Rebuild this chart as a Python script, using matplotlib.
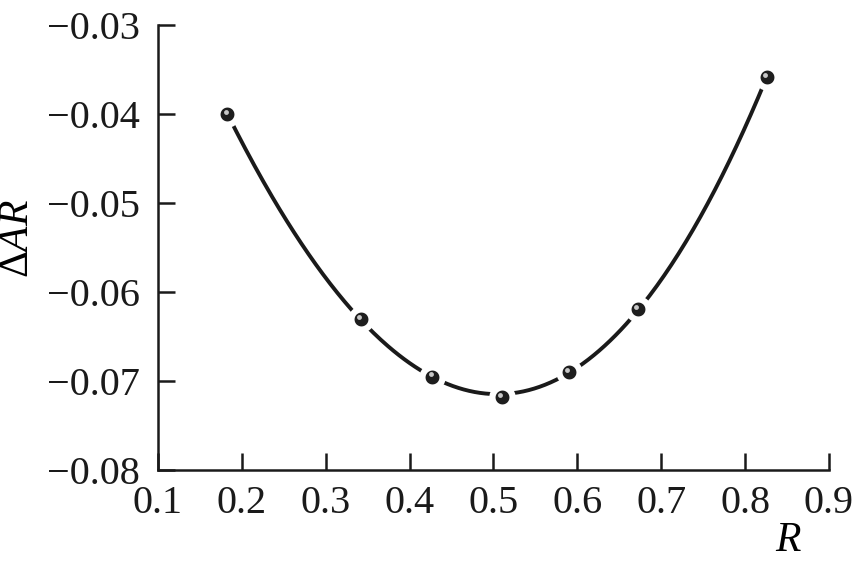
import numpy as np
import matplotlib
matplotlib.use("Agg")
import matplotlib.pyplot as plt
import matplotlib.transforms as mtransforms

# data
r_values = [0.1826, 0.342, 0.427, 0.5097, 0.590, 0.6725, 0.8262]
delta_ar = [-0.0400, -0.0630, -0.0695, -0.0718, -0.0690, -0.0619, -0.0358]
x_ticks = [0.1, 0.2, 0.3, 0.4, 0.5, 0.6, 0.7, 0.8, 0.9]
y_ticks = [-0.08, -0.07, -0.06, -0.05, -0.04, -0.03]

plt.rcParams['font.family'] = ['Liberation Serif', 'DejaVu Serif']
plt.rcParams['mathtext.fontset'] = 'custom'
plt.rcParams['mathtext.rm'] = 'Liberation Serif'
plt.rcParams['mathtext.it'] = 'Liberation Serif:italic'
plt.rcParams['axes.unicode_minus'] = True

fig = plt.figure(figsize=(8.54, 5.63), dpi=100)
ax = fig.add_axes([0.185, 0.1652, 0.7857, 0.7904])

# smooth fitted curve through the measured points
coef = np.polyfit(r_values, delta_ar, 3)
xs = np.linspace(r_values[0], r_values[-1], 300)
ax.plot(xs, np.polyval(coef, xs), color='#1a1a1a', lw=2.8, solid_capstyle='butt', zorder=2)

# points: dark balls with a white ring that cuts the line
ax.plot(r_values, delta_ar, ls='none', marker='o', ms=14.5, mfc='#1e1e1e', mec='white', mew=4.5, zorder=3)
# small highlight on each ball
shift = mtransforms.offset_copy(ax.transData, fig=fig, x=-1.2, y=1.5, units='points')
ax.plot(r_values, delta_ar, ls='none', marker='o', ms=3.5, mfc='#c8c8c8', mec='none', transform=shift, zorder=4)

ax.set_xlim(0.1, 0.9)
ax.set_ylim(-0.08, -0.03)
ax.set_xticks(x_ticks)
ax.set_xticklabels([f"{v:.1f}" for v in x_ticks])
ax.set_yticks(y_ticks)
ax.set_yticklabels([f"\u2212{abs(v):.2f}" for v in y_ticks])

for side in ['top', 'right']:
    ax.spines[side].set_visible(False)
for side in ['left', 'bottom']:
    ax.spines[side].set_linewidth(1.8)
    ax.spines[side].set_color('#1a1a1a')

ax.tick_params(direction='in', length=12, width=1.8, labelsize=29, colors='#1a1a1a')
ax.tick_params(axis='x', pad=11)
ax.tick_params(axis='y', pad=13)

ax.set_xlabel(r'$R$', fontsize=30)
ax.xaxis.set_label_coords(0.94, -0.115)
ax.set_ylabel(r'$\Delta AR$', fontsize=30)
ax.yaxis.set_label_coords(-0.18, 0.52)

fig.savefig("out.png", dpi=100)
